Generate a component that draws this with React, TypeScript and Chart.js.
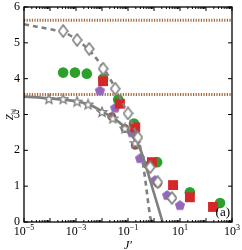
import React, { useEffect, useRef } from "react";
import { Chart, registerables } from "chart.js";

Chart.register(...registerables);

// ---- data ----
const solidX = [1e-5, 1e-4, 1e-3, 3.16e-3, 1e-2, 3.16e-2, 0.1, 0.2, 0.316, 0.79, 2.14];
const solidY = [3.5, 3.45, 3.37, 3.28, 3.09, 2.87, 2.56, 2.25, 1.98, 1.05, 0];

const dashedX = [1e-5, 1e-4, 3.2e-4, 1e-3, 3.16e-3, 1e-2, 3.16e-2, 0.1, 0.25, 0.4, 0.71, 0.83];
const dashedY = [5.52, 5.38, 5.3, 5.1, 4.8, 4.35, 3.75, 3.0, 2.3, 1.5, 0.15, 0];

const starX = [9.1e-5, 3.2e-4, 1.1e-3, 2.9e-3, 1e-2, 2.6e-2, 7.6e-2, 0.19];
const starY = [3.43, 3.43, 3.36, 3.28, 3.07, 2.89, 2.61, 2.2];

const diamondX = [3.2e-4, 1.1e-3, 3.2e-3, 1.1e-2, 3.2e-2, 0.1, 0.24, 0.71, 1.4, 4.9];
const diamondY = [5.33, 5.08, 4.83, 4.28, 3.72, 3.03, 2.36, 1.53, 1.11, 0.67];

const greenX = [3.2e-4, 9.1e-4, 2.6e-3, 1.1e-2, 4.2e-2, 0.17, 1.32, 24, 347];
const greenY = [4.17, 4.17, 4.14, 4.0, 3.42, 2.75, 1.67, 0.83, 0.53];

const redX = [1.1e-2, 4.9e-2, 0.19, 0.83, 5.4, 24, 186];
const redY = [3.93, 3.3, 2.64, 1.67, 1.03, 0.69, 0.42];

const purpleX = [8.3e-3, 3.2e-2, 0.14, 0.29, 1.1, 3.2, 10];
const purpleY = [3.67, 3.19, 2.5, 1.78, 1.17, 0.75, 0.47];

const brownX = [2.4e-2, 7.6e-2, 0.19, 0.59, 1.4, 4.9];
const brownY = [2.94, 2.61, 2.14, 1.58, 1.08, 0.67];

const hLines = [5.63, 3.56];

const xTickExps = [-5, -3, -1, 1, 3];
const yTicks = [0, 1, 2, 3, 4, 5, 6];

const pts = (xs: number[], ys: number[]) => xs.map((x, i) => ({ x, y: ys[i] }));

function makeStar(): HTMLCanvasElement {
  const c = document.createElement("canvas");
  c.width = 12; c.height = 12;
  const g = c.getContext("2d")!;
  g.beginPath();
  for (let i = 0; i < 10; i++) {
    const r = i % 2 === 0 ? 5 : 2.2;
    const a = -Math.PI / 2 + (i * Math.PI) / 5;
    const px = 6 + r * Math.cos(a), py = 6.3 + r * Math.sin(a);
    if (i === 0) g.moveTo(px, py); else g.lineTo(px, py);
  }
  g.closePath();
  g.fillStyle = "#ffffff"; g.fill();
  g.strokeStyle = "#808080"; g.lineWidth = 1.4; g.stroke();
  return c;
}

function makeDiamond(): HTMLCanvasElement {
  const c = document.createElement("canvas");
  c.width = 11; c.height = 14;
  const g = c.getContext("2d")!;
  g.beginPath();
  g.moveTo(5.5, 1); g.lineTo(10, 7); g.lineTo(5.5, 13); g.lineTo(1, 7); g.closePath();
  g.fillStyle = "#ffffff"; g.fill();
  g.strokeStyle = "#808080"; g.lineWidth = 1.6; g.stroke();
  return c;
}

function makePentagon(): HTMLCanvasElement {
  const c = document.createElement("canvas");
  c.width = 12; c.height = 12;
  const g = c.getContext("2d")!;
  g.beginPath();
  for (let i = 0; i < 5; i++) {
    const a = -Math.PI / 2 + (i * 2 * Math.PI) / 5;
    const px = 6 + 5.4 * Math.cos(a), py = 6.4 + 5.4 * Math.sin(a);
    if (i === 0) g.moveTo(px, py); else g.lineTo(px, py);
  }
  g.closePath();
  g.fillStyle = "#9467bd"; g.fill();
  return c;
}

const axisPlugin = {
  id: "axisPlugin",
  afterDraw(chart: any) {
    const { ctx, chartArea: a, scales } = chart;
    const xs = scales.x, ys = scales.y;
    ctx.save();
    ctx.strokeStyle = "#000";
    ctx.lineWidth = 1.3;
    ctx.strokeRect(a.left, a.top, a.right - a.left, a.bottom - a.top);
    ctx.lineWidth = 1;
    // x ticks
    for (let e = -5; e <= 3; e++) {
      for (let m = 1; m <= 9; m++) {
        const v = m * Math.pow(10, e);
        if (v > 1e3 + 1) break;
        const px = xs.getPixelForValue(v);
        if (px < a.left - 0.5 || px > a.right + 0.5) continue;
        const len = m === 1 ? 4 : 2;
        ctx.beginPath();
        ctx.moveTo(px, a.bottom); ctx.lineTo(px, a.bottom - len);
        ctx.moveTo(px, a.top); ctx.lineTo(px, a.top + len);
        ctx.stroke();
      }
    }
    // y ticks
    for (const t of yTicks) {
      const py = ys.getPixelForValue(t);
      ctx.beginPath();
      ctx.moveTo(a.left, py); ctx.lineTo(a.left + 4, py);
      ctx.moveTo(a.right, py); ctx.lineTo(a.right - 4, py);
      ctx.stroke();
    }
    ctx.fillStyle = "#000";
    // y labels
    ctx.font = "12px 'Liberation Serif'";
    ctx.textAlign = "right";
    ctx.textBaseline = "middle";
    for (const t of yTicks) {
      ctx.fillText(String(t), a.left - 4, ys.getPixelForValue(t));
    }
    // x labels
    ctx.textBaseline = "alphabetic";
    for (const e of xTickExps) {
      const px = xs.getPixelForValue(Math.pow(10, e));
      ctx.font = "12px 'Liberation Serif'";
      const base = "10";
      const exp = (e < 0 ? "\u2212" : "") + String(Math.abs(e));
      const bw = ctx.measureText(base).width;
      ctx.font = "8px 'Liberation Serif'";
      const ew = ctx.measureText(exp).width;
      const start = px - (bw + ew) / 2;
      ctx.textAlign = "left";
      ctx.font = "12px 'Liberation Serif'";
      ctx.fillText(base, start, a.bottom + 13);
      ctx.font = "8px 'Liberation Serif'";
      ctx.fillText(exp, start + bw, a.bottom + 8);
    }
    // x title
    ctx.font = "italic 12px 'Liberation Serif'";
    ctx.textAlign = "center";
    ctx.fillText("J\u2032", (a.left + a.right) / 2, a.bottom + 27);
    // y title
    ctx.save();
    ctx.translate(9, (a.top + a.bottom) / 2);
    ctx.rotate(-Math.PI / 2);
    ctx.font = "italic 11px 'Liberation Serif'";
    ctx.textAlign = "left";
    const zw = ctx.measureText("Z").width;
    ctx.font = "7px 'Liberation Serif'";
    const sw = ctx.measureText("|s|").width;
    const st = -(zw + sw) / 2;
    ctx.font = "italic 11px 'Liberation Serif'";
    ctx.fillText("Z", st, 4);
    ctx.font = "7px 'Liberation Serif'";
    ctx.fillText("|s|", st + zw, 6);
    ctx.restore();
    // annotation
    ctx.font = "13px 'Liberation Serif'";
    ctx.textAlign = "right";
    ctx.fillText("(a)", a.right - 2, a.bottom - 6);
    ctx.restore();
  },
};

export default function App() {
  const ref = useRef<HTMLCanvasElement | null>(null);
  useEffect(() => {
    document.body.style.margin = "0";
    if (!ref.current) return;
    const star = makeStar();
    const diamond = makeDiamond();
    const pent = makePentagon();
    const datasets: any[] = [
      { type: "scatter", data: pts(diamondX, diamondY), pointStyle: diamond, pointRadius: 6 },
      { type: "scatter", data: pts(starX, starY), pointStyle: star, pointRadius: 6 },
      {
        type: "line", data: pts(solidX, solidY), borderColor: "#7f7f7f", borderWidth: 2.6,
        pointRadius: 0, tension: 0.35, fill: false,
      },
      {
        type: "line", data: pts(dashedX, dashedY), borderColor: "#7f7f7f", borderWidth: 2.6,
        borderDash: [5, 4], pointRadius: 0, tension: 0.35, fill: false,
      },
      { type: "scatter", data: pts(brownX, brownY), pointStyle: "circle", pointRadius: 4.4, backgroundColor: "#8c564b", borderWidth: 0 },
      { type: "scatter", data: pts(redX, redY), pointStyle: "rect", pointRadius: 7, backgroundColor: "#d62728", borderWidth: 0 },
      { type: "scatter", data: pts(greenX, greenY), pointStyle: "circle", pointRadius: 5.3, backgroundColor: "#2ca02c", borderWidth: 0 },
      { type: "scatter", data: pts(purpleX, purpleY), pointStyle: pent, pointRadius: 6 },
      ...hLines.map((h) => ({
        type: "line",
        data: [{ x: 1e-5, y: h }, { x: 1e3, y: h }],
        borderColor: "#a8683a", borderWidth: 3, borderDash: [1.2, 1.4], pointRadius: 0, fill: false,
      })),
    ];
    const chart = new Chart(ref.current, {
      type: "scatter",
      data: { datasets },
      options: {
        animation: false,
        responsive: false,
        layout: { padding: { left: 24, right: 10, top: 6, bottom: 28 } },
        plugins: { legend: { display: false }, tooltip: { enabled: false } },
        scales: {
          x: { type: "logarithmic", min: 1e-5, max: 1e3, display: false },
          y: { type: "linear", min: 0, max: 6, display: false },
        },
      },
      plugins: [axisPlugin],
    } as any);
    return () => chart.destroy();
  }, []);
  return (
    <div style={{ width: 242, height: 250, background: "#fff" }}>
      <canvas ref={ref} width={242} height={250} />
    </div>
  );
}
